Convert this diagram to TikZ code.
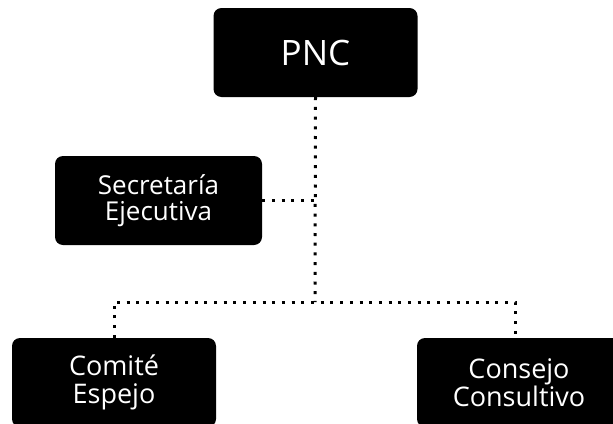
\documentclass[tikz,border=0pt]{standalone}
\usepackage{fontspec}
\setmainfont{Open Sans}
\tikzset{
  orgbox/.style={fill=black, rounded corners=8pt, text=white, align=center,
    minimum width=204pt, minimum height=89pt, inner sep=0pt},
  dots/.style={line width=3pt, dash pattern=on 3pt off 6.7pt}
}
\begin{document}
\begin{tikzpicture}[x=1pt,y=-1pt]
\clip (0,0) rectangle (613,423);
\useasboundingbox (0,0) rectangle (613,423);
\node[orgbox, font=\fontsize{35}{38}\selectfont] (pnc) at (315.5,52.5) {PNC};
\node[orgbox, minimum width=207pt, font=\fontsize{26}{26}\selectfont] (sec) at (158.5,200.5) {Secretaría\\Ejecutiva};
\node[orgbox, font=\fontsize{27}{28}\selectfont] (comite) at (114,382.5) {Comité\\Espejo};
\node[orgbox, font=\fontsize{27}{28}\selectfont] (consejo) at (519,382.5) {Consejo\\Consultivo};
\coordinate (mid) at (315,302);
\draw[dots] (pnc.south) -- (mid);
\draw[dots] (sec.east) -- (sec.east -| mid);
\draw[dots] (comite.north) |- (mid) -| ([xshift=-4pt]consejo.north);
\end{tikzpicture}
\end{document}
